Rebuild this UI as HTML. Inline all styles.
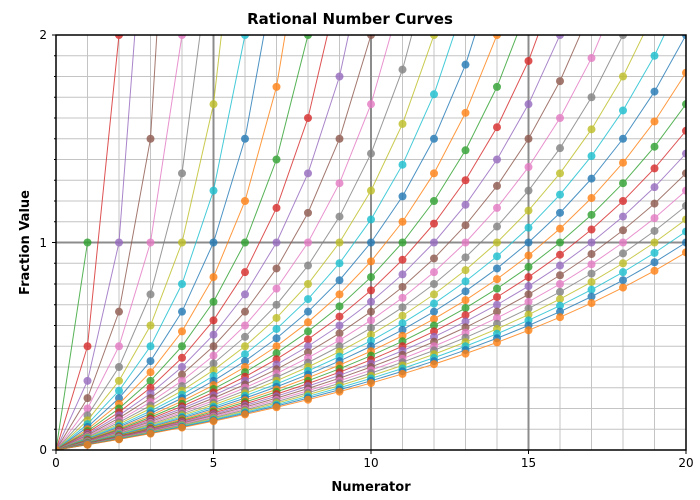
<!DOCTYPE html>
<html><head><meta charset="utf-8"><style>
html,body{margin:0;padding:0;background:#fff;}
svg{display:block;font-family:"DejaVu Sans","Liberation Sans",sans-serif;}
</style></head><body>
<svg id="s" width="700" height="500" viewBox="0 0 700 500" xmlns="http://www.w3.org/2000/svg">
<defs><clipPath id="c"><rect x="56" y="35" width="630" height="415"/></clipPath></defs>
<rect width="700" height="500" fill="#fff"/>
<g id="grid"></g>
<g id="data" clip-path="url(#c)"></g>
<rect x="56" y="35" width="630" height="415" fill="none" stroke="#000" stroke-width="1.5"/>
<g id="ticks" stroke="#000" stroke-width="1"></g>
<text x="350" y="24" text-anchor="middle" font-size="15" font-weight="bold">Rational Number Curves</text>
<g font-size="12" text-anchor="middle">
<text x="56" y="467">0</text><text x="213.5" y="467">5</text><text x="371" y="467">10</text><text x="528.5" y="467">15</text><text x="686" y="467">20</text>
</g>
<g font-size="12" text-anchor="end">
<text x="47" y="454">0</text><text x="47" y="247">1</text><text x="47" y="39">2</text>
</g>
<text x="371" y="491" text-anchor="middle" font-size="13" font-weight="bold">Numerator</text>
<text transform="translate(29,242.5) rotate(-90)" text-anchor="middle" font-size="13" font-weight="bold">Fraction Value</text>
</svg>
<script>
var NS="http://www.w3.org/2000/svg";
function X(x){return 56+x*31.5;} function Y(y){return 450-y*207.5;}
function el(p,t,a){var e=document.createElementNS(NS,t);for(var k in a)e.setAttribute(k,a[k]);p.appendChild(e);return e;}
var g=document.getElementById("grid"),d=document.getElementById("data"),tk=document.getElementById("ticks");
for(var i=1;i<20;i++){if(i%5)el(g,"line",{x1:X(i),x2:X(i),y1:35,y2:450,stroke:"#c4c4c4","stroke-width":1});}
for(var j=1;j<20;j++){if(j%10)el(g,"line",{x1:56,x2:686,y1:Y(j/10),y2:Y(j/10),stroke:"#c4c4c4","stroke-width":1});}
[5,10,15].forEach(function(i){el(g,"line",{x1:X(i),x2:X(i),y1:35,y2:450,stroke:"#8c8c8c","stroke-width":2});});
el(g,"line",{x1:56,x2:686,y1:Y(1),y2:Y(1),stroke:"#8c8c8c","stroke-width":2});
for(var i=0;i<=20;i+=5)el(tk,"line",{x1:X(i),x2:X(i),y1:450,y2:454});
for(var j=0;j<=20;j++){var l=(j%10)?2:4;el(tk,"line",{x1:56-l,x2:56,y1:Y(j/10),y2:Y(j/10)});}
var C=["#1f77b4","#ff7f0e","#2ca02c","#d62728","#9467bd","#8c564b","#e377c2","#7f7f7f","#bcbd22","#17becf"];
for(var s=1;s<=41;s++){
 var col=C[s%10],pts=[];
 for(var n=0;n<=Math.min(20,s-1);n++){pts.push([n,n/(s-n)]);}
 var dstr=pts.map(function(p,k){return (k?"L":"M")+X(p[0]).toFixed(2)+","+Y(Math.min(p[1],50)).toFixed(2);}).join("");
 var grp=el(d,"g",{opacity:0.8});
 el(grp,"path",{d:dstr,fill:"none",stroke:col,"stroke-width":1});
 pts.forEach(function(p){if(p[1]<=2.05)el(grp,"circle",{cx:X(p[0]),cy:Y(p[1]),r:4,fill:col});});
}
</script>
</body></html>
